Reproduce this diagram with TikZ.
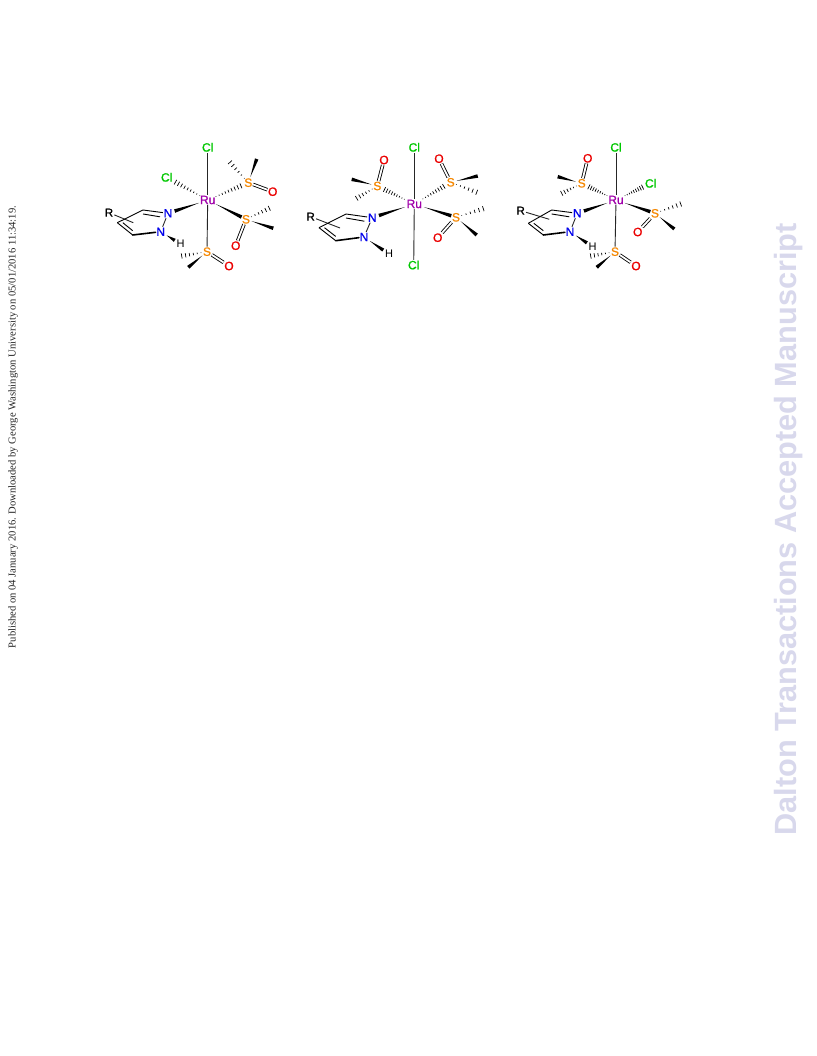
\documentclass[tikz,border=0pt]{standalone}
\usepackage{fontspec}
\setmainfont{Liberation Sans}
\newfontfamily\serifside{Liberation Serif}
\newfontfamily\atomfont[FakeBold=1.2]{Liberation Sans}
\usetikzlibrary{calc}
\definecolor{clg}{RGB}{0,200,0}
\definecolor{ruc}{RGB}{160,0,170}
\definecolor{sc}{RGB}{245,135,0}
\definecolor{oc}{RGB}{235,0,0}
\definecolor{nc}{RGB}{0,0,235}
\definecolor{wm}{RGB}{216,216,236}
\tikzset{
  atom/.style={inner sep=0.6pt,font=\atomfont\fontsize{12}{12}\selectfont},
  Cl/.style={atom,text=clg}, Ru/.style={atom,text=ruc}, Su/.style={atom,text=sc},
  Ox/.style={atom,text=oc}, Ni/.style={atom,text=nc},
  Hy/.style={inner sep=1pt,font=\fontsize{11}{12}\selectfont,text=black},
  Rg/.style={inner sep=1pt,font=\atomfont\fontsize{11.5}{12}\selectfont,text=black},
  bond/.style={line width=0.9pt,black!85},
  ringb/.style={line width=0.9pt,black},
  dbl/.style={line width=0.85pt,black,double=white,double distance=1.8pt},
  thick bond/.style={line width=1.6pt,black,line cap=round}
}
% wedge: narrow at #1, wide at #2; #3 start gap, #4 end gap
\newcommand{\wdg}[4]{%
  \fill[black] ($(#1)!#3pt!(#2)$) -- ($($(#2)!#4pt!(#1)$)!1.8pt!90:(#1)$) -- ($($(#2)!#4pt!(#1)$)!1.8pt!-90:(#1)$) -- cycle;}
% hash: narrow at #2 (first name), wide at #3; #1 step along the bond
\newcommand{\hsh}[5][0.125]{%
  \foreach \t in {0,#1,...,1.01}{%
    \coordinate (hs) at ($($(#2)!#4pt!(#3)$)!\t!($(#3)!#5pt!(#2)$)$);
    \pgfmathsetlengthmacro{\hw}{0.3pt+2.3pt*\t}
    \draw[line width=0.7pt,black] ($(hs)!\hw!90:(#2)$) -- ($(hs)!\hw!-90:(#2)$);
  }}
\begin{document}
\begin{tikzpicture}[x=1pt,y=-1pt]
\useasboundingbox (0,0) rectangle (816,1056);
\fill[white] (0,0) rectangle (816,1056);
% side texts
\node[rotate=90,inner sep=0pt,font=\serifside\fontsize{10.6}{12}\selectfont,text=black!85] (side) at (13,427) {Published on 04 January 2016. Downloaded by George Washington University on 05/01/2016 11:34:19.};
\node[rotate=90,inner sep=0pt,font=\fontsize{30.7}{34}\selectfont\bfseries,text=wm] (mark) at (789,529.5) {Dalton Transactions Accepted Manuscript};
% ===== molecule 1
\node[Ru] (aRu) at (207.7,200) {Ru};
\node[Cl] (aCa) at (207.7,147.3) {Cl};
\node[Cl] (aCb) at (166.7,177.3) {Cl};
\node[Ni] (aNa) at (168,213.3) {N};
\node[Ni] (aNb) at (160.7,231.7) {N};
\node[Hy] (aH) at (180.7,244) {H};
\node[Su] (aSa) at (207,251.7) {S};
\node[Ox] (aOa) at (229,266) {O};
\node[Su] (aSb) at (248.3,182.7) {S};
\node[Ox] (aOb) at (272.7,191.7) {O};
\node[Su] (aSc) at (246,219.3) {S};
\node[Ox] (aOc) at (235.7,245.7) {O};
\node[Rg] (aR) at (109,212.7) {R};
\coordinate (aMa) at (188.3,267.3); \coordinate (aHa) at (181.7,256);
\coordinate (aMb) at (256.7,159); \coordinate (aHb) at (230,162.3);
\coordinate (aMc) at (273.3,228.3); \coordinate (aHc) at (269.3,208.3);
\coordinate (aCt) at (143,210); \coordinate (aCl) at (117.3,222.7); \coordinate (aCu) at (132.7,235); \coordinate (aRe) at (133.3,222.7);
\draw[bond] (aRu)--(aCa); \draw[bond] (aRu)--(aSa);
\hsh{aRu}{aCb}{9}{10}
\wdg{aRu}{aNa}{9}{7}
\hsh{aRu}{aSb}{9}{8}
\wdg{aRu}{aSc}{9}{5}
\wdg{aSa}{aMa}{6}{0}
\hsh[0.2]{aSa}{aHa}{6}{0}
\wdg{aSb}{aMb}{6}{0}
\hsh[0.2]{aSb}{aHb}{6}{0}
\wdg{aSc}{aMc}{6}{0}
\hsh[0.2]{aSc}{aHc}{6}{0}
\draw[dbl] (aSa)--(aOa); \draw[dbl] (aSb)--(aOb); \draw[dbl] (aSc)--(aOc);
\draw[bond] (aR)--(aRe);
\draw[bond] (aNa)--(aNb);
\draw[ringb] (aNa)--(aCt) ($(aNa)+(-8,3.5)$)--($(aCt)+(0,4)$);
\draw[ringb] (aCt)--(aCl);
\draw[ringb] (aCl)--(aCu) ($(aCl)+(5.5,0)$)--($(aCu)+(0,-4.3)$);
\draw[thick bond] (aCu)--(aNb);
\wdg{aNb}{aH}{7}{7}
% ===== molecule 2
\node[Ru] (bRu) at (414.3,204) {Ru};
\node[Cl] (bCa) at (414.3,147.3) {Cl};
\node[Cl] (bCb) at (413.7,265) {Cl};
\node[Ni] (bNa) at (372.3,217.7) {N};
\node[Ni] (bNb) at (364,237) {N};
\node[Hy] (bH) at (389,254) {H};
\node[Su] (bSa) at (377.3,186) {S};
\node[Ox] (bOa) at (384,160) {O};
\node[Su] (bSb) at (450.7,182.3) {S};
\node[Ox] (bOb) at (439,158.7) {O};
\node[Su] (bSc) at (456,217.3) {S};
\node[Ox] (bOc) at (437.7,237.7) {O};
\node[Rg] (bR) at (310.7,216.7) {R};
\coordinate (bMa) at (351.7,179.3); \coordinate (bHa) at (356.7,198.3);
\coordinate (bMb) at (477.7,176); \coordinate (bHb) at (476.7,192.3);
\coordinate (bMc) at (476.7,235); \coordinate (bHc) at (483.3,208.7);
\coordinate (bCt) at (346,214); \coordinate (bCl) at (319,227.7); \coordinate (bCu) at (335.7,240.7); \coordinate (bRe) at (340,228);
\draw[bond] (bRu)--(bCa); \draw[bond] (bRu)--(bCb);
\hsh{bRu}{bSa}{11}{8}
\wdg{bRu}{bNa}{10}{7}
\hsh{bRu}{bSb}{10}{8}
\wdg{bRu}{bSc}{10}{5}
\wdg{bSa}{bMa}{6}{0}
\hsh[0.2]{bSa}{bHa}{6}{0}
\wdg{bSb}{bMb}{6}{0}
\hsh[0.2]{bSb}{bHb}{6}{0}
\wdg{bSc}{bMc}{6}{0}
\hsh[0.2]{bSc}{bHc}{6}{0}
\draw[dbl] (bSa)--(bOa); \draw[dbl] (bSb)--(bOb); \draw[dbl] (bSc)--(bOc);
\draw[bond] (bR)--(bRe);
\draw[bond] (bNa)--(bNb);
\draw[ringb] (bNa)--(bCt) ($(bNa)+(-8,3.5)$)--($(bCt)+(0,4)$);
\draw[ringb] (bCt)--(bCl);
\draw[ringb] (bCl)--(bCu) ($(bCl)+(5.5,0)$)--($(bCu)+(0,-4.3)$);
\draw[thick bond] (bCu)--(bNb);
\wdg{bNb}{bH}{7}{7}
% ===== molecule 3
\node[Ru] (cRu) at (616,200) {Ru};
\node[Cl] (cCa) at (616,147.3) {Cl};
\node[Cl] (cCb) at (650.7,183.3) {Cl};
\node[Ni] (cNa) at (577.3,213.3) {N};
\node[Ni] (cNb) at (570,231.7) {N};
\node[Hy] (cH) at (592.7,246.7) {H};
\node[Su] (cSa) at (615,251.7) {S};
\node[Ox] (cOa) at (636,266) {O};
\node[Su] (cSb) at (581.7,183.3) {S};
\node[Ox] (cOb) at (587.7,158.3) {O};
\node[Su] (cSc) at (655,213.3) {S};
\node[Ox] (cOc) at (637.7,232) {O};
\node[Rg] (cR) at (520.7,210.7) {R};
\coordinate (cMa) at (596.7,267.3); \coordinate (cHa) at (590.7,256);
\coordinate (cMb) at (557.7,176.7); \coordinate (cHb) at (561.7,193.3);
\coordinate (cMc) at (674.3,229); \coordinate (cHc) at (680.7,204);
\coordinate (cCt) at (551.7,210); \coordinate (cCl) at (528.3,223.3); \coordinate (cCu) at (543.3,235); \coordinate (cRe) at (549.3,219.3);
\draw[bond] (cRu)--(cCa); \draw[bond] (cRu)--(cSa);
\hsh{cRu}{cCb}{10}{9}
\wdg{cRu}{cNa}{9}{7}
\hsh{cRu}{cSb}{10}{8}
\wdg{cRu}{cSc}{9}{5}
\wdg{cSa}{cMa}{6}{0}
\hsh[0.2]{cSa}{cHa}{6}{0}
\wdg{cSb}{cMb}{6}{0}
\hsh[0.2]{cSb}{cHb}{6}{0}
\wdg{cSc}{cMc}{6}{0}
\hsh[0.2]{cSc}{cHc}{6}{0}
\draw[dbl] (cSa)--(cOa); \draw[dbl] (cSb)--(cOb); \draw[dbl] (cSc)--(cOc);
\draw[bond] (cR)--(cRe);
\draw[bond] (cNa)--(cNb);
\draw[ringb] (cNa)--(cCt) ($(cNa)+(-8,3.5)$)--($(cCt)+(0,4)$);
\draw[ringb] (cCt)--(cCl);
\draw[ringb] (cCl)--(cCu) ($(cCl)+(5.5,0)$)--($(cCu)+(0,-4.3)$);
\draw[thick bond] (cCu)--(cNb);
\wdg{cNb}{cH}{7}{7}
\end{tikzpicture}
\end{document}
